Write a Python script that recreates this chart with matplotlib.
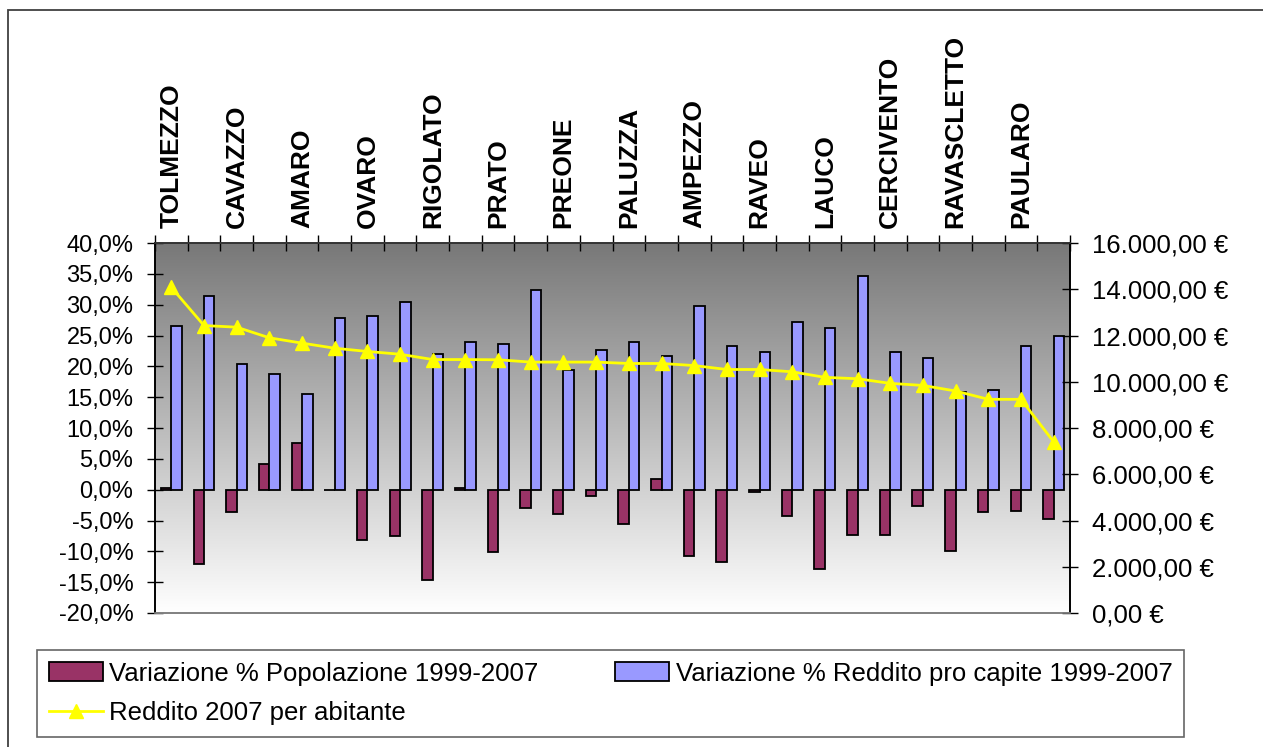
import matplotlib
matplotlib.use("Agg")
import matplotlib.pyplot as plt
import numpy as np
from matplotlib.patches import Rectangle
from matplotlib.ticker import FuncFormatter, MultipleLocator
from matplotlib.lines import Line2D

plt.rcParams['font.family'] = ['Liberation Sans', 'DejaVu Sans']

categories = ["TOLMEZZO", "", "CAVAZZO", "", "AMARO", "", "OVARO", "", "RIGOLATO", "",
              "PRATO", "", "PREONE", "", "PALUZZA", "", "AMPEZZO", "", "RAVEO", "",
              "LAUCO", "", "CERCIVENTO", "", "RAVASCLETTO", "", "PAULARO", ""]

var_popolazione = [0.2, -12.0, -3.6, 4.2, 7.5, 0.0, -8.2, -7.5, -14.7, 0.2,
                   -10.1, -3.0, -4.0, -1.0, -5.6, 1.8, -10.8, -11.8, -0.3, -4.3,
                   -12.8, -7.3, -7.3, -2.7, -9.9, -3.7, -3.4, -4.7]

var_reddito = [26.6, 31.4, 20.4, 18.8, 15.5, 27.9, 28.2, 30.5, 22.0, 23.9,
               23.6, 32.4, 19.4, 22.7, 24.0, 21.7, 29.8, 23.3, 22.3, 27.2,
               26.2, 34.7, 22.3, 21.4, 15.8, 16.2, 23.3, 24.9]

reddito_2007 = [14080, 12430, 12360, 11900, 11670, 11450, 11310, 11190, 10960, 10960,
                10950, 10850, 10850, 10850, 10790, 10790, 10700, 10530, 10530, 10430,
                10190, 10130, 9930, 9840, 9600, 9240, 9240, 7400]

label_pop = "Variazione % Popolazione 1999-2007"
label_inc = "Variazione % Reddito pro capite 1999-2007"
label_line = "Reddito 2007 per abitante"

W, H = 1263, 747
fig = plt.figure(figsize=(W / 100, H / 100), dpi=100)
fig.patch.set_facecolor("white")

# outer chart border
fig.add_artist(Rectangle((8 / W, -0.05), 1.2, 1 - 10 / H + 0.05, transform=fig.transFigure,
                         fill=False, edgecolor="#404040", lw=1.3))

left, right, top, bottom = 155, 1070, 243, 613
ax = fig.add_axes([left / W, 1 - bottom / H, (right - left) / W, (bottom - top) / H])
ax2 = ax.twinx()

n = len(categories)
x = np.arange(n)
bw = 0.32

# gradient background
grad = np.linspace(120, 255, 256)[:, None] / 255.0
grad_img = np.dstack([grad, grad, grad])
ax.imshow(grad_img, extent=[0, 1, 0, 1], transform=ax.transAxes, aspect="auto",
          origin="upper", zorder=0, interpolation="bilinear")

ax.bar(x - bw / 2, var_popolazione, width=bw, color="#993366", edgecolor="black",
       linewidth=1.3, zorder=2, label=label_pop)
ax.bar(x + bw / 2, var_reddito, width=bw, color="#9999FF", edgecolor="black",
       linewidth=1.3, zorder=2, label=label_inc)

ax2.plot(x, reddito_2007, color="#FFFF00", lw=2, marker="^", markersize=10,
         markerfacecolor="#FFFF00", markeredgecolor="#FFFF00", zorder=3, label=label_line)

ax.set_xlim(-0.5, n - 0.5)
ax.set_ylim(-20, 40)
ax2.set_ylim(0, 16000)
ax.yaxis.set_major_locator(MultipleLocator(5))
ax2.yaxis.set_major_locator(MultipleLocator(2000))

ax.yaxis.set_major_formatter(FuncFormatter(lambda v, p: f"{v:.1f}%".replace(".", ",")))


def euro(v, p):
    s = f"{v:,.2f}".replace(",", "X").replace(".", ",").replace("X", ".")
    return s + " €"


ax2.yaxis.set_major_formatter(FuncFormatter(euro))

# x axis on top
ax.xaxis.tick_top()
ax.set_xticks(x)
ax.set_xticklabels(categories, rotation=90, fontsize=19, fontweight="bold", va="bottom")
ax.set_xticks(np.arange(-0.5, n, 1), minor=True)
ax.tick_params(axis="x", which="major", length=0, pad=11, top=True, bottom=False,
               labeltop=True, labelbottom=False)
ax.tick_params(axis="x", which="minor", length=11, direction="inout", width=1,
               top=True, bottom=False)

ax.tick_params(axis="y", which="major", direction="inout", length=11, width=1,
               labelsize=17, pad=10)
ax2.tick_params(axis="y", which="major", direction="inout", length=11, width=1,
                labelsize=18.5, pad=10)

for a in (ax, ax2):
    a.spines["left"].set_color("black")
    a.spines["right"].set_color("black")
    a.spines["top"].set_color("#333333")
    a.spines["bottom"].set_color("#808080")
    for s in a.spines.values():
        s.set_linewidth(1.2)

ax.set_zorder(1)
ax2.set_zorder(2)
ax2.patch.set_visible(False)

# legend
h_pop = Rectangle((0, 0), 1, 1, facecolor="#993366", edgecolor="black", lw=1.3)
h_inc = Rectangle((0, 0), 1, 1, facecolor="#9999FF", edgecolor="black", lw=1.3)
h_line = Line2D([], [], color="#FFFF00", lw=2, marker="^", markersize=10,
                markerfacecolor="#FFFF00", markeredgecolor="#FFFF00")
leg = fig.legend([h_pop, h_line, h_inc], [label_pop, label_line, label_inc],
                 ncol=2, loc="upper left", bbox_to_anchor=(37 / W, 1 - 650 / H),
                 fontsize=18.5, frameon=True, fancybox=False, edgecolor="#404040",
                 handlelength=2.1, handleheight=0.75, handletextpad=0.25,
                 columnspacing=3.0, labelspacing=0.6, borderpad=0.45,
                 borderaxespad=0)
leg.get_frame().set_linewidth(1.2)

fig.savefig("out.png", dpi=100, facecolor="white")
